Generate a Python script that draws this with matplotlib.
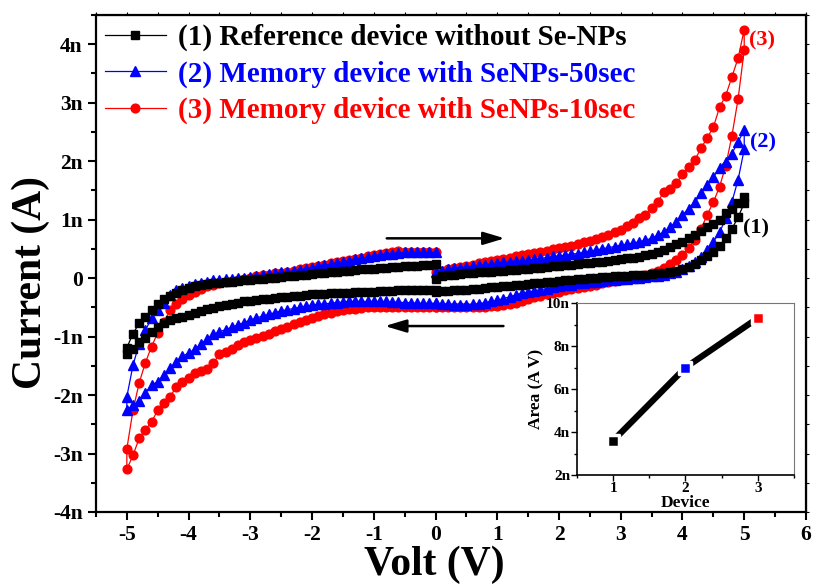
import numpy as np
import matplotlib
matplotlib.use("Agg")
import matplotlib.pyplot as plt
from matplotlib.ticker import MultipleLocator, FuncFormatter, NullFormatter

plt.rcParams['font.family'] = ['Liberation Serif', 'DejaVu Serif']
plt.rcParams['font.weight'] = 'bold'
plt.rcParams['axes.labelweight'] = 'bold'
plt.rcParams['axes.unicode_minus'] = False

#---------------------------- sweep: 0 -> +5 -> 0 -> -5 -> 0, 0.1 V step ----------------------------#
volt_step = np.linspace(0, 5, 51)
sweep = np.concatenate([volt_step, volt_step[::-1], -volt_step, -volt_step[::-1]])

# current, nA.  *_a : 0->5,  *_b : 5->0,  *_c : 0->-5,  *_d : -5->0
black_a = [-0.02, 0.03, 0.05, 0.06, 0.07, 0.08, 0.09, 0.10, 0.10, 0.11,
           0.12, 0.13, 0.14, 0.14, 0.15, 0.16, 0.17, 0.18, 0.19, 0.20,
           0.21, 0.22, 0.23, 0.24, 0.25, 0.26, 0.27, 0.28, 0.30, 0.31,
           0.32, 0.34, 0.35, 0.36, 0.39, 0.42, 0.45, 0.48, 0.54, 0.58,
           0.62, 0.68, 0.74, 0.81, 0.87, 0.93, 1.00, 1.11, 1.19, 1.29,
           1.38]
black_b = [1.28, 1.04, 0.84, 0.68, 0.55, 0.44, 0.37, 0.31, 0.24, 0.19,
           0.15, 0.12, 0.10, 0.09, 0.08, 0.07, 0.06, 0.05, 0.05, 0.04,
           0.04, 0.03, 0.02, 0.02, 0.01, 0.00, -0.01, -0.02, -0.03, -0.04,
           -0.05, -0.06, -0.07, -0.08, -0.09, -0.10, -0.11, -0.12, -0.13, -0.14,
           -0.15, -0.16, -0.17, -0.18, -0.19, -0.20, -0.20, -0.21, -0.22, -0.22,
           -0.23]
black_c = [-0.20, -0.20, -0.20, -0.20, -0.21, -0.21, -0.21, -0.22, -0.22, -0.22,
           -0.23, -0.23, -0.24, -0.24, -0.25, -0.25, -0.26, -0.26, -0.27, -0.27,
           -0.28, -0.29, -0.30, -0.31, -0.32, -0.33, -0.34, -0.35, -0.36, -0.38,
           -0.39, -0.40, -0.42, -0.44, -0.46, -0.48, -0.51, -0.53, -0.56, -0.59,
           -0.63, -0.66, -0.69, -0.72, -0.76, -0.83, -0.93, -1.03, -1.10, -1.21,
           -1.30]
black_d = [-1.19, -0.95, -0.77, -0.66, -0.55, -0.44, -0.36, -0.31, -0.26, -0.21,
           -0.17, -0.14, -0.12, -0.10, -0.09, -0.08, -0.07, -0.06, -0.05, -0.04,
           -0.03, -0.02, -0.01, 0.00, 0.01, 0.02, 0.03, 0.04, 0.05, 0.06,
           0.07, 0.08, 0.09, 0.10, 0.11, 0.12, 0.13, 0.14, 0.15, 0.16,
           0.16, 0.17, 0.18, 0.19, 0.19, 0.20, 0.21, 0.21, 0.22, 0.23,
           0.24]

blue_a = [0.11, 0.13, 0.15, 0.17, 0.18, 0.19, 0.20, 0.22, 0.23, 0.24,
          0.26, 0.27, 0.28, 0.29, 0.30, 0.31, 0.32, 0.34, 0.35, 0.37,
          0.38, 0.39, 0.41, 0.42, 0.44, 0.46, 0.48, 0.50, 0.52, 0.54,
          0.56, 0.58, 0.60, 0.62, 0.65, 0.68, 0.73, 0.79, 0.88, 0.96,
          1.08, 1.19, 1.30, 1.45, 1.59, 1.73, 1.88, 1.99, 2.13, 2.33,
          2.53]
blue_b = [2.20, 1.68, 1.30, 1.02, 0.78, 0.62, 0.48, 0.36, 0.28, 0.20,
          0.15, 0.11, 0.08, 0.06, 0.04, 0.03, 0.02, 0.01, 0.00, -0.01,
          -0.02, -0.03, -0.04, -0.05, -0.06, -0.07, -0.08, -0.09, -0.11, -0.12,
          -0.14, -0.16, -0.18, -0.20, -0.22, -0.24, -0.26, -0.29, -0.32, -0.35,
          -0.38, -0.40, -0.42, -0.44, -0.45, -0.46, -0.46, -0.46, -0.45, -0.44,
          -0.43]
blue_c = [-0.43, -0.43, -0.43, -0.43, -0.42, -0.42, -0.41, -0.41, -0.40, -0.40,
          -0.40, -0.40, -0.40, -0.40, -0.40, -0.41, -0.42, -0.43, -0.44, -0.45,
          -0.46, -0.48, -0.50, -0.52, -0.54, -0.56, -0.59, -0.62, -0.65, -0.68,
          -0.72, -0.76, -0.80, -0.84, -0.88, -0.92, -0.96, -1.04, -1.13, -1.22,
          -1.28, -1.34, -1.43, -1.54, -1.66, -1.77, -1.83, -1.97, -2.11, -2.17,
          -2.26]
blue_d = [-2.03, -1.49, -1.12, -0.89, -0.69, -0.55, -0.43, -0.29, -0.21, -0.17,
          -0.13, -0.10, -0.08, -0.06, -0.04, -0.03, -0.02, -0.01, 0.00, 0.01,
          0.02, 0.04, 0.05, 0.07, 0.08, 0.10, 0.11, 0.13, 0.14, 0.16,
          0.18, 0.20, 0.22, 0.24, 0.26, 0.28, 0.30, 0.32, 0.34, 0.36,
          0.38, 0.40, 0.41, 0.42, 0.43, 0.44, 0.44, 0.44, 0.44, 0.44,
          0.44]

red_a = [0.10, 0.13, 0.15, 0.17, 0.19, 0.21, 0.23, 0.25, 0.27, 0.29,
         0.31, 0.33, 0.35, 0.37, 0.39, 0.41, 0.43, 0.45, 0.47, 0.49,
         0.51, 0.53, 0.55, 0.58, 0.61, 0.64, 0.67, 0.70, 0.74, 0.78,
         0.83, 0.89, 0.95, 1.02, 1.08, 1.20, 1.30, 1.48, 1.52, 1.62,
         1.78, 1.90, 2.02, 2.22, 2.40, 2.58, 2.92, 3.12, 3.44, 3.76,
         4.25]
red_b = [3.90, 3.06, 2.43, 1.92, 1.56, 1.30, 1.08, 0.84, 0.66, 0.52,
         0.40, 0.31, 0.24, 0.18, 0.13, 0.09, 0.06, 0.03, 0.01, -0.01,
         -0.03, -0.05, -0.07, -0.09, -0.11, -0.13, -0.15, -0.17, -0.19, -0.21,
         -0.23, -0.25, -0.27, -0.30, -0.33, -0.36, -0.39, -0.42, -0.44, -0.46,
         -0.47, -0.48, -0.49, -0.50, -0.50, -0.50, -0.50, -0.50, -0.50, -0.50,
         -0.50]
red_c = [-0.50, -0.50, -0.50, -0.50, -0.50, -0.50, -0.50, -0.50, -0.50, -0.50,
         -0.50, -0.50, -0.51, -0.52, -0.53, -0.55, -0.57, -0.59, -0.62, -0.65,
         -0.68, -0.71, -0.75, -0.79, -0.83, -0.87, -0.91, -0.95, -0.99, -1.02,
         -1.06, -1.10, -1.15, -1.22, -1.26, -1.30, -1.46, -1.56, -1.59, -1.63,
         -1.71, -1.77, -1.86, -2.03, -2.14, -2.26, -2.46, -2.60, -2.74, -3.03,
         -3.27]
red_d = [-2.92, -2.26, -1.79, -1.45, -1.17, -0.94, -0.75, -0.55, -0.44, -0.36,
         -0.29, -0.23, -0.18, -0.14, -0.11, -0.09, -0.07, -0.05, -0.03, -0.01,
         0.01, 0.03, 0.05, 0.06, 0.08, 0.09, 0.11, 0.13, 0.15, 0.17,
         0.19, 0.21, 0.23, 0.25, 0.27, 0.29, 0.31, 0.33, 0.35, 0.37,
         0.39, 0.41, 0.43, 0.44, 0.47, 0.45, 0.45, 0.45, 0.45, 0.45,
         0.45]

labels = ["(1) Reference device without Se-NPs",
          "(2) Memory device with SeNPs-50sec",
          "(3) Memory device with SeNPs-10sec"]

# inset: hysteresis loop area
device = [1, 2, 3]
area = [3.6, 7.0, 9.3]
device_colors = ["black", "blue", "red"]

#---------------------------------------- main plot ----------------------------------------#
fig = plt.figure(figsize=(8.16, 5.85), dpi=100)
ax = fig.add_axes([0.1176, 0.1248, 0.8701, 0.8496])

l3, = ax.plot(sweep, np.concatenate([red_a, red_b, red_c, red_d]), '-', color='red',
              lw=0.9, marker='o', ms=6.3, label=labels[2])
l2, = ax.plot(sweep, np.concatenate([blue_a, blue_b, blue_c, blue_d]), '-', color='blue',
              lw=0.9, marker='^', ms=7, label=labels[1])
l1, = ax.plot(sweep, np.concatenate([black_a, black_b, black_c, black_d]), '-', color='black',
              lw=0.9, marker='s', ms=5.3, label=labels[0])

ax.set_xlim(-5.5, 6)
ax.set_ylim(-4, 4.5)
ax.xaxis.set_major_locator(MultipleLocator(1))
ax.xaxis.set_minor_locator(MultipleLocator(0.5))
ax.yaxis.set_major_locator(MultipleLocator(1))
ax.yaxis.set_minor_locator(MultipleLocator(0.5))
ax.yaxis.set_major_formatter(FuncFormatter(lambda v, p: "0" if abs(v) < 1e-9 else "%dn" % round(v)))
ax.xaxis.set_major_formatter(FuncFormatter(lambda v, p: "%d" % round(v)))
ax.tick_params(which='major', direction='out', length=6, width=1.5, labelsize=15.5)
ax.tick_params(which='minor', direction='out', length=3.5, width=1.5)
for s in ax.spines.values():
    s.set_linewidth(1.6)

top = ax.secondary_xaxis('top')
top.xaxis.set_major_locator(MultipleLocator(0.5))
top.xaxis.set_major_formatter(NullFormatter())
top.tick_params(length=2.5, width=0.8)
right = ax.secondary_yaxis('right')
right.yaxis.set_major_locator(MultipleLocator(0.5))
right.yaxis.set_major_formatter(NullFormatter())
right.tick_params(length=2.5, width=0.8)

ax.set_xlabel("Volt (V)", fontsize=30, fontweight='bold')
ax.set_ylabel("Current (A)", fontsize=30, fontweight='bold')
ax.xaxis.set_label_coords(0.477, -0.068)
ax.yaxis.set_label_coords(-0.065, 0.462)

ax.legend([l1, l2, l3], labels, loc='upper left', bbox_to_anchor=(0.0, 1.0), frameon=False,
          prop={'weight': 'bold', 'size': 21}, labelcolor='linecolor', numpoints=1,
          handlelength=2.1, handletextpad=0.4, labelspacing=0.32, borderaxespad=0.1, borderpad=0.2)

# sweep direction arrows
arr = dict(arrowstyle='-|>,head_length=1.0,head_width=0.3', color='black', lw=1.8,
           shrinkA=0, shrinkB=0, mutation_scale=13)
ax.annotate('', xy=(1.12, 0.68), xytext=(-0.79, 0.68), arrowprops=arr)
ax.annotate('', xy=(-0.82, -0.82), xytext=(1.10, -0.82), arrowprops=arr)

ax.text(4.98, 0.85, "(1)", color='black', fontsize=16, va='center', ha='left')
ax.text(5.09, 2.32, "(2)", color='blue', fontsize=16, va='center', ha='left')
ax.text(5.07, 4.07, "(3)", color='red', fontsize=16, va='center', ha='left')

#---------------------------------------- inset ----------------------------------------#
ins = fig.add_axes([0.7071, 0.188, 0.2659, 0.294])
ins.plot(device, area, '-', color='black', lw=4.5, zorder=1, solid_capstyle='butt')
ins.scatter(device, area, marker='s', s=75, c=device_colors, edgecolors='white',
            linewidths=2.5, zorder=3)
ins.set_xlim(0.5, 3.5)
ins.set_ylim(2, 10)
ins.xaxis.set_major_locator(MultipleLocator(1))
ins.xaxis.set_minor_locator(MultipleLocator(0.5))
ins.yaxis.set_major_locator(MultipleLocator(2))
ins.yaxis.set_minor_locator(MultipleLocator(1))
ins.yaxis.set_major_formatter(FuncFormatter(lambda v, p: "%dn" % round(v)))
ins.tick_params(which='major', direction='out', length=4, width=1.0, labelsize=11, pad=1)
ins.tick_params(which='minor', direction='out', length=2.5, width=1.0)
ins.spines['left'].set_linewidth(1.2)
ins.spines['bottom'].set_linewidth(1.2)
ins.spines['top'].set_color('#777777')
ins.spines['right'].set_color('#777777')
ins.set_xlabel("Device", fontsize=12.5, fontweight='bold', labelpad=0)
ins.set_ylabel("Area (A V)", fontsize=12.5, fontweight='bold', labelpad=1)

fig.savefig('out.png', dpi=100)
